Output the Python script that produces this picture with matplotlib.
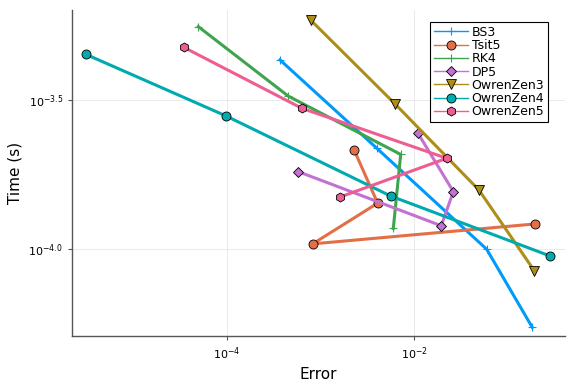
import matplotlib
matplotlib.use("Agg")
import matplotlib.pyplot as plt
import numpy as np
from matplotlib.ticker import FixedLocator, FuncFormatter, NullLocator

# log10 values
bs3_err = [-3.434, -2.401, -1.227, -0.740]
bs3_time = [-3.365, -3.662, -4.002, -4.265]
tsit5_err = [-2.644, -2.391, -3.085, -0.714]
tsit5_time = [-3.667, -3.847, -3.984, -3.917]
rk4_err = [-4.306, -3.345, -2.145, -2.224]
rk4_time = [-3.253, -3.487, -3.683, -3.932]
dp5_err = [-1.964, -1.583, -1.712, -3.239]
dp5_time = [-3.610, -3.808, -3.923, -3.741]
oz3_err = [-3.106, -2.206, -1.309, -0.719]
oz3_time = [-3.231, -3.513, -3.803, -4.074]
oz4_err = [-5.509, -4.014, -2.252, -0.548]
oz4_time = [-3.346, -3.553, -3.823, -4.025]
oz5_err = [-4.459, -3.199, -1.654, -2.790]
oz5_time = [-3.323, -3.528, -3.696, -3.826]

series = [
    ("BS3", bs3_err, bs3_time, "#009AFA", "+"),
    ("Tsit5", tsit5_err, tsit5_time, "#E36F47", "o"),
    ("RK4", rk4_err, rk4_time, "#3EA44E", "+"),
    ("DP5", dp5_err, dp5_time, "#C371D2", "D"),
    ("OwrenZen3", oz3_err, oz3_time, "#AC8E18", "v"),
    ("OwrenZen4", oz4_err, oz4_time, "#00AAAE", "o"),
    ("OwrenZen5", oz5_err, oz5_time, "#ED5E93", "h"),
]

fig = plt.figure(figsize=(5.76, 3.84), dpi=100)
ax = fig.add_axes([0.125, 0.125, 0.856, 0.849])

for name, e, t, c, m in series:
    x = 10.0 ** np.array(e)
    y = 10.0 ** np.array(t)
    if m == "+":
        ax.plot(x, y, color=c, lw=2.2, marker=m, ms=6, mew=0.8, mec=c, label=name)
    else:
        ms = 5 if m == "D" else 6.5
        ax.plot(x, y, color=c, lw=2.2, marker=m, ms=ms, mew=0.6, mec="black",
                mfc=c, label=name)

ax.set_xscale("log")
ax.set_yscale("log")
ax.set_xlim(10 ** -5.655, 10 ** -0.39)
ax.set_ylim(10 ** -4.294, 10 ** -3.197)

ax.xaxis.set_major_locator(FixedLocator([1e-4, 1e-2]))
ax.xaxis.set_minor_locator(NullLocator())
ax.xaxis.set_major_formatter(FuncFormatter(lambda v, p: r"$10^{%d}$" % round(np.log10(v))))
ax.yaxis.set_major_locator(FixedLocator([10 ** -4.0, 10 ** -3.5]))
ax.yaxis.set_minor_locator(NullLocator())
ax.yaxis.set_major_formatter(FuncFormatter(lambda v, p: r"$10^{%.1f}$" % np.log10(v)))

ax.grid(True, color="#e6e6e6", lw=0.6)
ax.set_axisbelow(True)
for s in ["top", "right"]:
    ax.spines[s].set_visible(False)
for s in ["left", "bottom"]:
    ax.spines[s].set_color("#555555")
    ax.spines[s].set_linewidth(1.0)
ax.tick_params(labelsize=8, length=3, width=0.8, color="#555555")

ax.set_xlabel("Error", fontsize=11, labelpad=4)
ax.set_ylabel("Time (s)", fontsize=11, labelpad=4)

leg = fig.legend(loc="upper right", bbox_to_anchor=(548 / 576, 1 - 22 / 384), fontsize=9,
                 frameon=True, fancybox=False, edgecolor="black", framealpha=1,
                 borderpad=0.3, labelspacing=0.02, handlelength=2.7, handletextpad=0.3,
                 borderaxespad=0)
leg.get_frame().set_linewidth(0.8)
for h in leg.legend_handles:
    h.set_linewidth(1.0)

fig.savefig("out.png", dpi=100)
